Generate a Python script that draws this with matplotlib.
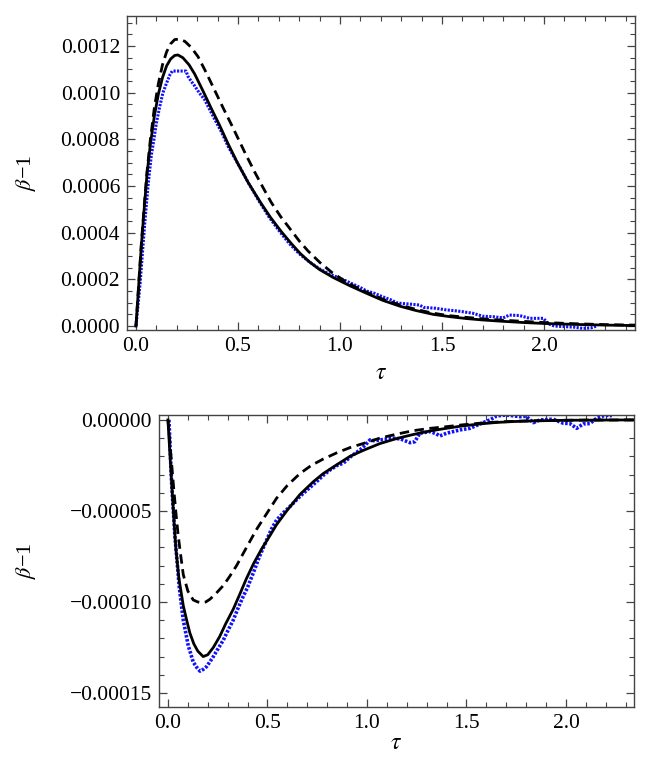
import numpy as np
import matplotlib
matplotlib.use("Agg")
import matplotlib.pyplot as plt
from matplotlib.ticker import MultipleLocator, FuncFormatter

plt.rcParams['font.family'] = ['Liberation Serif', 'DejaVu Serif']
plt.rcParams['mathtext.fontset'] = 'stix'
plt.rcParams['font.size'] = 15.5

# ---- top panel data (beta - 1, units of 1e-4) ----
top_solid_tau = [0, 0.013, 0.026, 0.04, 0.054, 0.07, 0.09, 0.11, 0.13, 0.15, 0.17, 0.19, 0.206,
                 0.23, 0.26, 0.288, 0.33, 0.369, 0.41, 0.451, 0.5, 0.55, 0.614, 0.66, 0.712, 0.76,
                 0.804, 0.85, 0.9, 0.967, 1.05, 1.131, 1.21, 1.294, 1.37, 1.457, 1.54, 1.62, 1.7,
                 1.784, 1.9, 2.0, 2.15, 2.3, 2.45]
top_solid_val = [0, 1.7, 3.4, 5.0, 6.5, 7.75, 9.0, 9.95, 10.65, 11.15, 11.45, 11.6, 11.62,
                 11.5, 11.2, 10.8, 10.05, 9.33, 8.6, 7.82, 6.95, 6.15, 5.25, 4.65, 4.05, 3.55,
                 3.12, 2.75, 2.42, 2.08, 1.72, 1.4, 1.1, 0.85, 0.67, 0.5, 0.4, 0.32, 0.26,
                 0.21, 0.15, 0.11, 0.07, 0.04, 0.02]

top_dash_tau = [0, 0.013, 0.026, 0.04, 0.054, 0.07, 0.09, 0.11, 0.13, 0.15, 0.17, 0.19, 0.214,
                0.24, 0.27, 0.304, 0.345, 0.386, 0.43, 0.467, 0.5, 0.533, 0.582, 0.62, 0.663,
                0.71, 0.761, 0.8, 0.843, 0.902, 0.96, 1.016, 1.07, 1.131, 1.21, 1.294, 1.37,
                1.45, 1.53, 1.62, 1.7, 1.78, 1.9, 2.0, 2.15, 2.3, 2.45]
top_dash_val = [0, 1.75, 3.5, 5.1, 6.6, 7.95, 9.35, 10.4, 11.2, 11.75, 12.1, 12.28, 12.3,
                12.2, 11.95, 11.55, 10.85, 10.1, 9.3, 8.65, 8.05, 7.45, 6.6, 5.98, 5.3,
                4.68, 4.1, 3.65, 3.22, 2.72, 2.3, 1.97, 1.7, 1.45, 1.15, 0.9, 0.72,
                0.56, 0.45, 0.37, 0.31, 0.26, 0.2, 0.15, 0.1, 0.06, 0.04]

top_data_tau = [0.0, 0.01, 0.02, 0.034, 0.043, 0.051, 0.06, 0.075, 0.088, 0.1, 0.115, 0.132,
                0.145, 0.157, 0.168, 0.178, 0.2, 0.225, 0.245, 0.255, 0.27, 0.288, 0.31, 0.336,
                0.36, 0.386, 0.42, 0.451, 0.49, 0.516, 0.55, 0.6, 0.65, 0.7, 0.75, 0.8, 0.85,
                0.9, 0.95, 1.0, 1.05, 1.1, 1.131, 1.17, 1.196, 1.25, 1.278, 1.3, 1.343, 1.39,
                1.41, 1.47, 1.523, 1.56, 1.605, 1.65, 1.7, 1.75, 1.8, 1.83, 1.88, 1.93, 1.997,
                2.02, 2.05, 2.11, 2.15, 2.19, 2.23, 2.258]
top_data_val = [0.0, 0.9, 1.8, 3.4, 4.4, 5.2, 6.1, 7.3, 8.0, 8.7, 9.35, 10.0,
                10.3, 10.57, 10.8, 10.93, 10.93, 10.93, 10.93, 10.7, 10.5, 10.29, 10.0, 9.71,
                9.3, 8.86, 8.3, 7.71, 7.1, 6.71, 6.15, 5.4, 4.7, 4.1, 3.55, 3.1, 2.75,
                2.45, 2.22, 2.05, 1.85, 1.65, 1.5, 1.4, 1.3, 1.12, 1.0, 0.97, 0.94, 0.9,
                0.8, 0.76, 0.69, 0.66, 0.61, 0.55, 0.42, 0.4, 0.35, 0.47, 0.45, 0.33, 0.33,
                0.1, 0.0, -0.03, -0.05, -0.1, -0.08, 0.0]

# ---- bottom panel data (beta - 1, units of 1e-5) ----
bot_solid_tau = [0, 0.01, 0.02, 0.03, 0.04, 0.055, 0.077, 0.094, 0.11, 0.13, 0.15, 0.177, 0.2,
                 0.228, 0.26, 0.29, 0.328, 0.36, 0.395, 0.43, 0.47, 0.51, 0.546, 0.6, 0.663,
                 0.73, 0.78, 0.85, 0.915, 0.98, 1.065, 1.15, 1.233, 1.32, 1.4, 1.48, 1.568,
                 1.65, 1.735, 1.82, 1.903, 2.0, 2.15, 2.34]
bot_solid_val = [0, -1.9, -3.7, -5.5, -7.1, -8.7, -10.2, -11.0, -11.7, -12.3, -12.7, -13.0, -12.9,
                 -12.5, -11.9, -11.2, -10.4, -9.6, -8.7, -7.9, -7.1, -6.4, -5.75, -4.95, -4.1,
                 -3.4, -2.95, -2.45, -2.0, -1.68, -1.3, -1.02, -0.8, -0.6, -0.46, -0.33, -0.22,
                 -0.14, -0.09, -0.06, -0.04, -0.02, -0.01, 0]

bot_dash_tau = [0, 0.01, 0.02, 0.03, 0.04, 0.05, 0.06, 0.077, 0.1, 0.127, 0.15, 0.169, 0.19,
                0.211, 0.24, 0.278, 0.31, 0.345, 0.37, 0.4, 0.446, 0.49, 0.546, 0.6, 0.663,
                0.72, 0.78, 0.85, 0.915, 0.98, 1.065, 1.15, 1.233, 1.32, 1.4, 1.48, 1.568,
                1.65, 1.75, 1.9, 2.1, 2.34]
bot_dash_val = [0, -1.3, -2.6, -3.9, -5.1, -6.2, -7.1, -8.5, -9.4, -9.89, -10.0, -10.04, -10.0,
                -9.85, -9.55, -9.1, -8.6, -8.0, -7.5, -6.9, -6.0, -5.25, -4.3, -3.6, -2.95,
                -2.5, -2.15, -1.8, -1.52, -1.3, -1.0, -0.78, -0.59, -0.46, -0.37, -0.27, -0.18,
                -0.12, -0.07, -0.03, -0.01, 0]

bot_data_tau = [0.005, 0.018, 0.035, 0.057, 0.077, 0.102, 0.127, 0.145, 0.161, 0.178, 0.194,
                0.21, 0.228, 0.25, 0.278, 0.3, 0.328, 0.35, 0.378, 0.4, 0.429, 0.46, 0.496,
                0.52, 0.546, 0.58, 0.613, 0.65, 0.68, 0.72, 0.747, 0.78, 0.814, 0.85, 0.881,
                0.92, 0.965, 0.99, 1.015, 1.04, 1.065, 1.1, 1.132, 1.17, 1.216, 1.24, 1.266,
                1.317, 1.345, 1.367, 1.4, 1.467, 1.518, 1.568, 1.618, 1.652, 1.702, 1.769,
                1.8, 1.836, 1.869, 1.936, 1.986, 2.02, 2.054, 2.087, 2.12, 2.154, 2.187,
                2.221, 2.238]
bot_data_val = [0.0, -3.4, -6.4, -9.2, -11.0, -12.4, -13.3, -13.6, -13.8, -13.7, -13.55,
                -13.3, -13.0, -12.6, -12.1, -11.6, -11.0, -10.4, -9.7, -9.2, -8.4, -7.5, -6.6,
                -6.0, -5.5, -5.1, -4.76, -4.35, -4.03, -3.65, -3.39, -3.05, -2.75, -2.5, -2.38,
                -2.0, -1.65, -1.4, -1.1, -1.15, -1.1, -1.05, -1.0, -1.05, -1.25, -1.2, -0.73,
                -0.64, -0.75, -0.88, -0.73, -0.55, -0.46, -0.22, 0.0, 0.22, 0.27, 0.18,
                0.2, -0.15, 0.0, 0.04, -0.18, -0.2, -0.46, -0.22, -0.2, 0.09, 0.22,
                0.27, 0.15]

TOP_SCALE = 1e-4
BOT_SCALE = 1e-5
FRAME = '#444444'


def minus_fmt(decimals):
    def f(v, pos):
        s = f'{v:.{decimals}f}'
        if abs(v) < 0.5 * 10 ** (-decimals):
            s = f'{0:.{decimals}f}'
        return s.replace('-', '\u2212')
    return FuncFormatter(f)


def style_axes(ax):
    for sp in ax.spines.values():
        sp.set_color(FRAME)
        sp.set_linewidth(1.0)
    ax.tick_params(which='both', direction='in', top=True, right=True, color=FRAME)
    ax.tick_params(which='major', length=6, width=0.9, pad=5)
    ax.tick_params(which='minor', length=3.5, width=0.8)
    ax.xaxis.set_major_locator(MultipleLocator(0.5))
    ax.xaxis.set_minor_locator(MultipleLocator(0.1))
    ax.xaxis.set_major_formatter(FuncFormatter(lambda v, p: f'{v:.1f}'))


def draw_panel(ax, d_tau, d_val, s_tau, s_val, k_tau, k_val, scale, data_lw):
    # measured data: dense blue dots
    ax.plot(d_tau, np.array(d_val) * scale, color='#1010ff', lw=data_lw,
            ls=(0, (0.7, 0.45)), zorder=2)
    # dashed model
    ax.plot(k_tau, np.array(k_val) * scale, color='black', lw=2.0,
            ls=(0, (3.4, 2.0)), zorder=3)
    # solid model
    ax.plot(s_tau, np.array(s_val) * scale, color='black', lw=2.0, zorder=4)


fig = plt.figure(figsize=(6.64, 7.67), dpi=100)

# top panel
ax1 = fig.add_axes([127 / 664, 1 - 330 / 767, 508 / 664, 314 / 767])
draw_panel(ax1, top_data_tau, top_data_val, top_solid_tau, top_solid_val,
           top_dash_tau, top_dash_val, TOP_SCALE, 2.2)
style_axes(ax1)
ax1.set_xlim(-0.044, 2.446)
ax1.set_ylim(-0.000017, 0.001329)
ax1.yaxis.set_major_locator(MultipleLocator(0.0002))
ax1.yaxis.set_minor_locator(MultipleLocator(0.00005))
ax1.yaxis.set_major_formatter(minus_fmt(4))
ax1.set_ylabel(r'$\beta$' + '\u22121', fontsize=16)
ax1.yaxis.set_label_coords(-0.175, 0.5)
ax1.set_xlabel(r'$\tau$', fontsize=17)
ax1.xaxis.set_label_coords(0.5, -0.105)

# bottom panel
ax2 = fig.add_axes([159 / 664, 1 - 707 / 767, 475 / 664, 292 / 767])
draw_panel(ax2, bot_data_tau, bot_data_val, bot_solid_tau, bot_solid_val,
           bot_dash_tau, bot_dash_val, BOT_SCALE, 2.6)
style_axes(ax2)
ax2.set_xlim(-0.045, 2.342)
ax2.set_ylim(-0.0001577, 0.0000027)
ax2.yaxis.set_major_locator(MultipleLocator(0.00005))
ax2.yaxis.set_minor_locator(MultipleLocator(0.00001))
ax2.yaxis.set_major_formatter(minus_fmt(5))
ax2.set_ylabel(r'$\beta$' + '\u22121', fontsize=16)
ax2.yaxis.set_label_coords(-0.255, 0.5)
ax2.set_xlabel(r'$\tau$', fontsize=17)
ax2.xaxis.set_label_coords(0.5, -0.09)

fig.savefig('out.png', dpi=100)
